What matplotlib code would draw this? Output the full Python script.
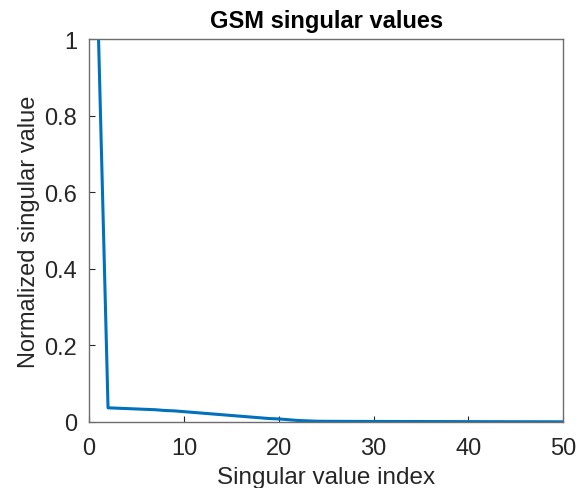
import numpy as np
import matplotlib.pyplot as plt

plt.rcParams["font.family"] = ["Liberation Sans", "DejaVu Sans"]

# normalized singular values of the GSM, index 1..50
sv = [1.0, 0.037, 0.036, 0.035, 0.034, 0.033, 0.032, 0.030, 0.029, 0.027,
      0.025, 0.023, 0.021, 0.019, 0.017, 0.015, 0.013, 0.011, 0.009, 0.008,
      0.006, 0.004, 0.003, 0.002, 0.0018, 0.0017, 0.0016, 0.0015, 0.0015, 0.0014,
      0.0014, 0.0013, 0.0013, 0.0012, 0.0012, 0.0011, 0.0011, 0.0010, 0.0010, 0.0009,
      0.0009, 0.0008, 0.0008, 0.0007, 0.0007, 0.0006, 0.0006, 0.0005, 0.0005, 0.0004]
idx = np.arange(1, len(sv) + 1)

axcol = "#262626"

fig = plt.figure(figsize=(5.86, 4.89), dpi=100)
ax = fig.add_axes([0.152, 0.135, 0.809, 0.783])
ax.plot(idx, sv, color="#0072BD", lw=2.2)

ax.set_xlim(0, 50)
ax.set_ylim(0, 1)
ax.set_xticks([0, 10, 20, 30, 40, 50])
ax.set_yticks([0, 0.2, 0.4, 0.6, 0.8, 1])
ax.set_yticklabels(["0", "0.2", "0.4", "0.6", "0.8", "1"])
ax.tick_params(direction="in", length=4, width=0.8, colors=axcol,
               labelsize=17, top=True, right=False)
ax.tick_params(axis="y", pad=8.5)
ax.tick_params(axis="x", top=False, pad=11)
for s in ax.spines.values():
    s.set_color("#6e6e6e")
    s.set_linewidth(1.0)

ax.set_xlabel("Singular value index", fontsize=17.5, color=axcol, labelpad=4.5)
ax.set_ylabel("Normalized singular value", fontsize=17, color=axcol, labelpad=3)
ax.set_title("GSM singular values", fontsize=17, fontweight="bold", color="black", pad=8.5)

fig.savefig("out.png", dpi=100)
